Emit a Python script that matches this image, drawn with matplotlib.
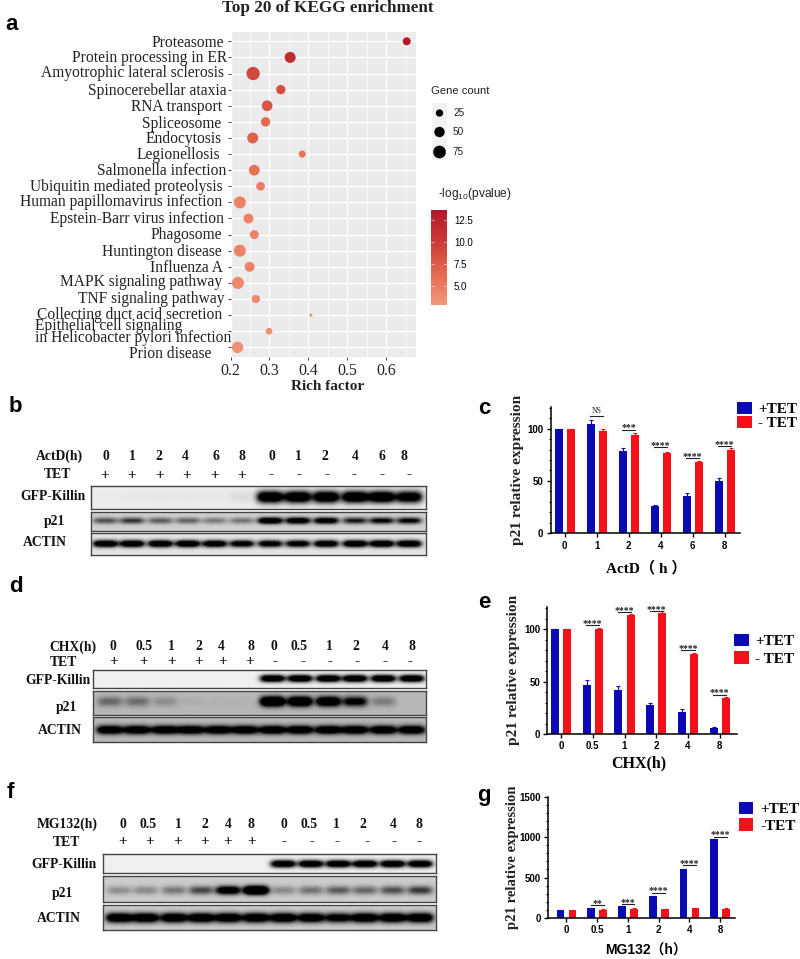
import numpy as np
import matplotlib
matplotlib.use("Agg")
import matplotlib.pyplot as plt
from matplotlib.colors import LinearSegmentedColormap, Normalize
from matplotlib.cm import ScalarMappable
from matplotlib.patches import Rectangle
from matplotlib.transforms import Affine2D

W, H = 800, 959
SERIF = "Liberation Serif"
SANS = "Liberation Sans"

# ---------- data: panel a ----------
pathways = ["Proteasome", "Protein processing in ER", "Amyotrophic lateral sclerosis",
            "Spinocerebellar ataxia", "RNA transport", "Spliceosome", "Endocytosis",
            "Legionellosis", "Salmonella infection", "Ubiquitin mediated proteolysis",
            "Human papillomavirus infection", "Epstein-Barr virus infection", "Phagosome",
            "Huntington disease", "Influenza A", "MAPK signaling pathway",
            "TNF signaling pathway", "Collecting duct acid secretion",
            "Epithelial cell signaling\nin Helicobacter pylori infection", "Prion disease"]
rich_factor = [.652, .353, .258, .329, .294, .290, .257, .384, .261, .277,
               .224, .246, .261, .224, .249, .219, .265, .406, .299, .218]
gene_count = [30, 56, 82, 40, 53, 40, 56, 23, 53, 35, 67, 46, 37, 67, 46, 67, 32, 5, 21, 60]
log_p = [13.5, 11.5, 9.0, 8.5, 8, 6.5, 7, 5.5, 6, 5, 4.5, 4.5, 4.5, 4.5, 4.5, 4, 4, 3.5, 3.5, 3.5]
legend_counts = [25, 50, 75]

# ---------- data: bar panels ----------
groups_c = ["0", "1", "2", "4", "6", "8"]
plus_c = [100, 104, 79, 26, 36, 50]
minus_c = [100, 98, 94, 77, 68, 80]
plus_err_c = [0, 4, 2, 1, 2, 2.5]
minus_err_c = [0, 2, 2, 1, 1, 1]
sig_c = ["", "NS", "***", "****", "****", "****"]
sig_y_c = [0, 112, 99, 82, 72, 83]

groups_e = ["0", "0.5", "1", "2", "4", "8"]
plus_e = [100, 47, 42, 28, 21, 5.5]
minus_e = [100, 100, 113, 115, 76, 34]
plus_err_e = [0, 4, 4, 2, 2.5, 1]
minus_err_e = [0, 1, 1, 2, 1, 1]
sig_e = ["", "****", "****", "****", "****", "****"]
sig_y_e = [0, 104, 116, 117, 80, 37.5]

groups_g = ["0", "0.5", "1", "2", "4", "8"]
plus_g = [100, 120, 145, 270, 600, 975]
minus_g = [100, 105, 115, 110, 125, 115]
plus_err_g = [0, 5, 5, 8, 8, 8]
minus_err_g = [0, 4, 4, 4, 4, 4]
sig_g = ["", "**", "***", "****", "****", "****"]
sig_y_g = [0, 160, 173, 313, 651, 1006]

# ---------- data: blot band intensities ----------
b_gfp = [.005, .01, .015, .015, .01, .05, 1, 1, 1, 1, 1, .9]
b_p21 = [.42, .52, .38, .36, .28, .30, 1, .95, .9, .62, .72, .72]
b_actin = [1, 1, 1, 1, .95, .85, .85, .85, .95, 1, 1, 1]
d_gfp = [0, 0, 0, 0, 0, 0, 1, 1, 1, 1, 1, 1]
d_p21 = [.30, .28, .16, .04, .02, .02, 1.3, 1.2, 1.1, .8, .22, 0]
d_actin = [1, 1, 1, 1, 1, 1, 1, 1, 1, 1, 1, 1]
f_gfp = [0, 0, 0, 0, 0, 0, 1, 1, 1, 1, 1, 1]
f_p21 = [.2, .22, .28, .45, .95, 1.4, .22, .3, .38, .34, .42, .5]
f_actin = [1, 1, 1, 1, 1, 1, 1, .95, .85, 1, 1, 1]
blot_b_times = ["0", "1", "2", "4", "6", "8", "0", "1", "2", "4", "6", "8"]
blot_d_times = ["0", "0.5", "1", "2", "4", "8", "0", "0.5", "1", "2", "4", "8"]
blot_f_times = blot_d_times
tet_signs = ["+"] * 6 + ["-"] * 6

fig = plt.figure(figsize=(W / 100, H / 100), dpi=100, facecolor="white")


def px_axes(x0, y0, x1, y1, **kw):
    return fig.add_axes([x0 / W, 1 - y1 / H, (x1 - x0) / W, (y1 - y0) / H], **kw)


# ---------- panel a ----------
ax = px_axes(230.5, 32, 415.7, 357)
ax.set_facecolor("#EBEBEB")
y_pos = np.arange(len(pathways))
ax.set_xlim(0.2, 0.675)
ax.set_ylim(19.6, -0.578)
ax.set_xticks([.2, .3, .4, .5, .6])
ax.set_xticks([.25, .35, .45, .55, .65], minor=True)
ax.set_yticks(y_pos)
ax.set_yticklabels(pathways, family=SERIF, fontsize=11.2, multialignment="left", linespacing=0.66)
ax.grid(True, which="major", color="white", lw=1.0)
ax.grid(True, which="minor", axis="x", color="white", lw=0.5)
ax.set_axisbelow(True)
for s in ax.spines.values():
    s.set_visible(False)
ax.tick_params(axis="y", length=2.2, width=0.7, color="#444444", pad=0, labelcolor="#222222")
ax.tick_params(axis="x", which="major", length=2, width=0.7, color="#444444", pad=2, labelcolor="#222222")
ax.tick_params(axis="x", which="minor", length=0)
for t in ax.get_xticklabels():
    t.set_family(SERIF)
    t.set_fontsize(11.5)
label_right = [224, 227, 224, 227, 222.5, 221, 221.5, 220, 226, 222.5, 222.5, 224, 222, 222, 222.5,
               222.5, 224, 222.5, 231.5, 211]
label_cy = [40.7, 56, 71, 89, 105, 121.7, 137, 153.3, 169, 185.3, 200.3, 217, 233, 249.7, 266.3,
            280, 297.3, 313.3, 332, 351.7]
for i, t in enumerate(ax.get_yticklabels()):
    dy = (41.3 + 16.1 * i) - label_cy[i]
    dx = label_right[i] - 227.4
    t.set_transform(t.get_transform() + Affine2D().translate(dx, dy))

cmap = LinearSegmentedColormap.from_list("rp", ["#F2987C", "#E5694F", "#CB3A38", "#B2182B"])
norm = Normalize(2.84, 13.6)
size_per_count = (1.47 * 0.72) ** 2
ax.scatter(rich_factor, y_pos, s=np.array(gene_count) * size_per_count, c=log_p, cmap=cmap,
           norm=norm, linewidths=0, zorder=3)

cax = px_axes(431, 210, 447, 305)
cb = fig.colorbar(ScalarMappable(norm=norm, cmap=cmap), cax=cax)
cb.outline.set_visible(False)
cb.set_ticks([5, 7.5, 10, 12.5], labels=["5.0", "7.5", "10.0", "12.5"])
cb.ax.tick_params(length=0, labelsize=7, pad=5)
for t in cb.ax.get_yticklabels():
    t.set_family(SANS)
for v in [5, 7.5, 10, 12.5]:
    cb.ax.plot([0, .2], [v, v], color="white", lw=.5, alpha=.7, transform=cb.ax.get_yaxis_transform())
    cb.ax.plot([.8, 1], [v, v], color="white", lw=.5, alpha=.7, transform=cb.ax.get_yaxis_transform())


# ---------- blots ----------
def blot(box, lanes, intens, cy, hh, bg, hw=12.5):
    x0, y0, x1, y1 = box
    a = px_axes(x0, y0, x1, y1)
    nx, ny = int((x1 - x0) * 2), int((y1 - y0) * 2)
    xs = np.linspace(x0, x1, nx)
    ys = np.linspace(y0, y1, ny)
    X, Y = np.meshgrid(xs, ys)
    dark = np.zeros_like(X)
    for lx, v in zip(lanes, intens):
        dark += v * np.exp(-((X - lx) / hw) ** 4) * np.exp(-((Y - cy) / hh) ** 2)
    img = bg * (1 - np.clip(dark * 1.5, 0, 1))
    a.imshow(img, cmap="gray", vmin=0, vmax=1, aspect="auto", interpolation="bilinear")
    a.set_xticks([])
    a.set_yticks([])
    for s in a.spines.values():
        s.set_color("#444444")
        s.set_linewidth(1.0)


lanes_b = np.array([315, 395, 480, 562, 643, 725, 810, 893, 978, 1065, 1145, 1227]) / 3
blot((90.7, 485.7, 425.7, 509.3), lanes_b, b_gfp, 497.5, 6, .93, hw=13.5)
blot((90.7, 511.7, 425.7, 531), lanes_b, b_p21, 521, 3.2, .82)
blot((90.7, 533.3, 425.7, 555.3), lanes_b, b_actin, 544, 3.6, .90)

lanes_d = np.array([330, 412, 495, 573, 655, 735, 818, 900, 985, 1065, 1150, 1235]) / 3
blot((93.3, 670.3, 425.7, 687.7), lanes_d, d_gfp, 678.5, 3.6, .94)
blot((93.3, 690.7, 425.7, 715.3), lanes_d, d_p21, 702, 5, .72)
blot((93.3, 717.3, 425.7, 742), lanes_d, d_actin, 730, 4.4, .72, hw=13.5)

lanes_f = np.array([358, 437, 522, 604, 685, 768, 850, 933, 1015, 1095, 1178, 1260]) / 3
blot((103.3, 854, 435.7, 873.3), lanes_f, f_gfp, 864.5, 3.6, .94)
blot((103.3, 875.7, 435.7, 901.7), lanes_f, f_p21, 890, 4.4, .80)
blot((103.3, 904.7, 435.7, 929.7), lanes_f, f_actin, 917.5, 5, .80, hw=13.5)


# ---------- bars ----------
def bars(box, ylim, yticks, minor, groups, plus, minus, perr, merr, sig, sigy, off, leftx, rightx,
         xlabel, xl_xy, xl_size, ylab_xy, xl_family, legend_xy, legend_labels, lab_space, ylab_size=11.1):
    a = px_axes(*box)
    x = np.arange(len(groups))
    blue, red = "#0A0AB4", "#F5101A"
    a.bar(x - off, plus, .25, color=blue, label=legend_labels[0])
    a.bar(x + off, minus, .25, color=red, label=legend_labels[1])
    a.errorbar(x - off, plus, yerr=[np.zeros(6), perr], fmt="none", ecolor=blue, elinewidth=.8, capsize=1.5, capthick=.8)
    a.errorbar(x + off, minus, yerr=[np.zeros(6), merr], fmt="none", ecolor=red, elinewidth=.8, capsize=1.5, capthick=.8)
    a.set_xlim(leftx, rightx)
    a.set_ylim(*ylim)
    a.set_xticks(x)
    a.set_xticklabels(groups, family=SANS, fontweight="bold", fontsize=7)
    a.set_yticks(yticks)
    a.set_yticks(minor, minor=True)
    a.set_yticklabels([str(v) for v in yticks], family=SANS, fontweight="bold", fontsize=7)
    a.tick_params(axis="both", which="major", length=3.2, width=1, pad=2)
    a.tick_params(axis="y", which="minor", length=1.8, width=.8)
    for s in ("top", "right"):
        a.spines[s].set_visible(False)
    for s in ("left", "bottom"):
        a.spines[s].set_linewidth(1.1)
    a.patch.set_alpha(0)
    for i, (s, yv) in enumerate(zip(sig, sigy)):
        if s:
            a.plot([i - .21, i + .21], [yv, yv], color="#222222", lw=.8, clip_on=False)
            a.annotate(s, (i, yv), xytext=(0, -2 if "*" in s else .5), textcoords="offset points", ha="center",
                       va="bottom", fontsize=7 if "*" in s else 5.5, family=SERIF, color="#222222",
                       fontweight="bold" if "*" in s else "normal", annotation_clip=False)
    fig.text(xl_xy[0] / W, 1 - xl_xy[1] / H, xlabel, ha="center", va="center", fontsize=xl_size,
             fontweight="bold", family=xl_family)
    fig.text(ylab_xy[0] / W, 1 - ylab_xy[1] / H, "p21 relative expression", rotation=90, ha="center",
             va="center", fontsize=ylab_size, fontweight="bold", family=SERIF, color="#222222")
    a.legend(loc="upper left", bbox_to_anchor=(legend_xy[0] / W, 1 - legend_xy[1] / H),
             bbox_transform=fig.transFigure, frameon=False, borderpad=0, borderaxespad=0,
             handlelength=.93, handleheight=.85, handletextpad=.45, labelspacing=lab_space,
             prop={"family": SERIF, "weight": "bold", "size": 11})


bars((550.7, 407.3, 740, 533.3), (0, 120.3), [0, 50, 100], np.arange(0, 121, 10), groups_c, plus_c, minus_c,
     plus_err_c, minus_err_c, sig_c, sig_y_c, .1875, -.4375, 5.48, "ActD（ h ）", (646.5, 567.7), 11,
     (517, 470), [SERIF, "Noto Sans CJK SC"], (737.3, 401.7), ["+TET", "- TET"], 0.0)
bars((547.3, 607.3, 737.3, 734), (0, 120.7), [0, 50, 100], np.arange(0, 121, 10), groups_e, plus_e, minus_e,
     plus_err_e, minus_err_e, sig_e, sig_y_e, .193, -.43, 5.55, "CHX(h)", (639, 763), 11.5,
     (513, 670), [SERIF], (734.3, 634), ["+TET", "- TET"], .2)
bars((548, 796.7, 735, 918), (0, 1500), [0, 500, 1000, 1500], np.arange(0, 1501, 100), groups_g, plus_g, minus_g,
     plus_err_g, minus_err_g, sig_g, sig_y_g, .195, -.60, 5.48, "MG132（h）", (646, 951), 10,
     (512.5, 857), [SANS, "Noto Sans CJK SC"], (739, 802), ["+TET", "-TET"], .13, 10.6)

# ---------- overlay: free text and size legend ----------
ov = fig.add_axes([0, 0, 1, 1], facecolor="none")
ov.set_xlim(0, W)
ov.set_ylim(H, 0)
ov.axis("off")


def T(x, y, s, size=8, weight="normal", family=SERIF, ha="center", **kw):
    ov.text(x, y, s, fontsize=size, fontweight=weight, family=family, ha=ha, va="center", **kw)


T(328, 8, "Top 20 of KEGG enrichment", 12.3, "bold", color="#222222")
T(328, 387, "Rich factor", 11, "bold", color="#222222")
for s, x, y in [("a", 12, 24), ("b", 15, 407), ("c", 484, 409), ("d", 16, 587), ("e", 484, 603),
                ("f", 10, 792), ("g", 484, 795)]:
    T(x, y, s, 16, "bold", SANS, color="black")

ov.add_patch(Rectangle((432, 103), 15, 57, color="#F2F2F2", lw=0))
T(431, 90.7, "Gene count", 8.1, family=SANS, ha="left", color="#222222")
ov.scatter([439.5] * 3, [113, 132, 152], s=np.array(legend_counts) * size_per_count, color="black", linewidths=0)
for y, c in zip([113, 132, 152], legend_counts):
    T(453, y, str(c), 7.2, family=SANS, ha="left", color="#222222")
T(438, 194, r"-log$_{\mathregular{10}}$(pvalue)", 8.6, family=SANS, ha="left", color="#222222")

BL = 9.8


def blot_labels(title, title_xy, tet_xy, times, time_x, time_y, sign_x, sign_y, names):
    T(*title_xy, title, BL, "bold", color="#111111")
    T(*tet_xy, "TET", BL, "bold", color="#111111")
    for s, x in zip(times, time_x):
        T(x / 3, time_y, s, BL, "bold", color="#111111")
    for s, x in zip(tet_signs, sign_x):
        T(x / 3, sign_y, s, 11, "bold", color="#111111")
    for n, x, y in names:
        T(x, y, n, BL, "bold", color="#111111")


blot_labels("ActD(h)", (59, 456), (57, 475), blot_b_times,
            [317, 397, 477, 557, 647, 727, 817, 895, 975, 1065, 1145, 1213], 456,
            [313, 395, 478, 561, 643, 725, 813, 897, 980, 1063, 1146, 1228], 475,
            [("GFP-Killin", 53, 497), ("p21", 54, 521), ("ACTIN", 45, 542)])
blot_labels("CHX(h)", (73, 647), (63, 662), blot_d_times,
            [338, 432, 515, 595, 664, 752, 821, 896, 988, 1068, 1156, 1236], 647,
            [340, 432, 514, 596, 667, 748, 825, 908, 989, 1072, 1156, 1230], 662,
            [("GFP-Killin", 58, 680), ("p21", 66, 708), ("ACTIN", 60, 731)])
blot_labels("MG132(h)", (67, 824), (66, 842), blot_f_times,
            [369, 444, 536, 615, 684, 753, 852, 927, 1010, 1089, 1179, 1257], 824,
            [369, 450, 532, 614, 684, 756, 852, 935, 1010, 1100, 1182, 1257], 842,
            [("GFP-Killin", 64, 864), ("p21", 62, 893), ("ACTIN", 59, 918)])

fig.savefig("out.png", dpi=100)
